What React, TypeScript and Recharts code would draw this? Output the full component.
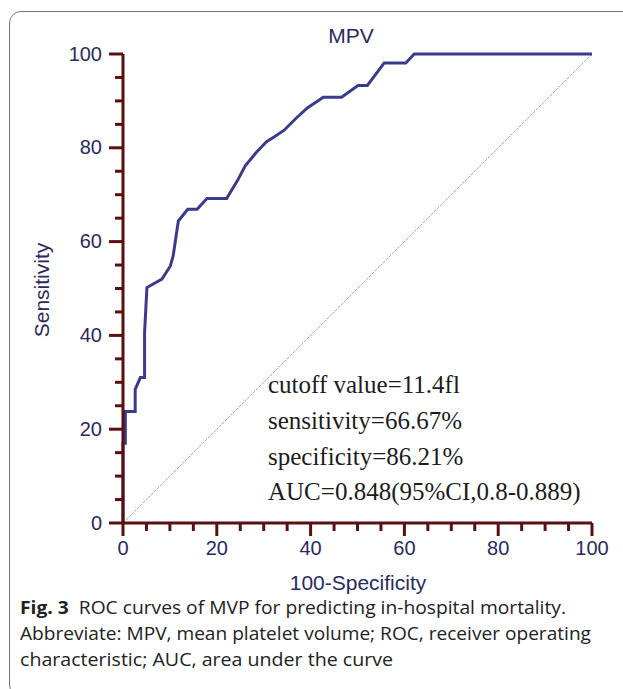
import React from "react";
import { LineChart, Line, XAxis, YAxis, ReferenceLine } from "recharts";

// ROC curve points (100-specificity, sensitivity)
const fpr = [0, 0, 0.5, 0.5, 2.6, 2.6, 3.7, 4.6, 4.6, 5.1, 8.3, 10.1, 10.7, 11.8, 13.8, 15.8, 17.9, 22.1, 24.4, 26.1, 28.5, 30.6, 32.2, 34.3, 36.8, 39.3, 42.7, 46.6, 50.1, 52.1, 55.7, 60.3, 62.1, 100];
const tpr = [0, 17, 17, 23.8, 23.8, 28.5, 31, 31, 40.6, 50.2, 52, 54.8, 57, 64.4, 66.9, 66.9, 69.2, 69.2, 73, 76.2, 79.1, 81.3, 82.3, 83.7, 86.2, 88.5, 90.8, 90.8, 93.3, 93.3, 98.1, 98.1, 100, 100];

const tickValues = [0, 5, 10, 15, 20, 25, 30, 35, 40, 45, 50, 55, 60, 65, 70, 75, 80, 85, 90, 95, 100];
const statLines = ["cutoff value=11.4fl", "sensitivity=66.67%", "specificity=86.21%", "AUC=0.848(95%CI,0.8-0.889)"];
const captionRest = [
  "Abbreviate: MPV, mean platelet volume; ROC, receiver operating",
  "characteristic; AUC, area under the curve",
];

const rocData = fpr.map((x, i) => ({ fpr: x, tpr: tpr[i] }));

const AXIS = "#5a1010";
const LABEL = "#2a2a5c";
const CURVE = "#3b3b8c";
const SANS = "'Liberation Sans', Arial, sans-serif";

const XTick = (props: any) => {
  const { x, y, payload } = props;
  const major = payload.value % 20 === 0;
  return (
    <g>
      <line x1={x} x2={x} y1={y} y2={y + (major ? 13 : 8)} stroke={AXIS} strokeWidth={3} />
      {major && (
        <text x={x} y={y + 32} textAnchor="middle" fontSize={20} fontFamily={SANS} fill={LABEL}>
          {payload.value}
        </text>
      )}
    </g>
  );
};

const YTick = (props: any) => {
  const { x, y, payload } = props;
  const major = payload.value % 20 === 0;
  return (
    <g>
      <line x1={x} x2={x - (major ? 14 : 8)} y1={y} y2={y} stroke={AXIS} strokeWidth={3} />
      {major && (
        <text x={x - 21} y={y + 6.5} textAnchor="end" fontSize={20} fontFamily={SANS} fill={LABEL}>
          {payload.value}
        </text>
      )}
    </g>
  );
};

const App: React.FC = () => {
  return (
    <div style={{ position: "absolute", left: 0, top: 0, width: 623, height: 689, overflow: "hidden", background: "#fff" }}>
      <div
        style={{
          position: "absolute",
          left: 9,
          top: 11,
          width: 700,
          height: 684,
          border: "1.5px solid #777",
          borderRadius: 12,
        }}
      />
      <div style={{ position: "absolute", left: 0, top: 0 }}>
        <LineChart width={623} height={610} data={rocData} margin={{ top: 54, right: 31, left: 0, bottom: 27 }}>
          <XAxis
            dataKey="fpr"
            type="number"
            domain={[0, 100]}
            ticks={tickValues}
            interval={0}
            tickSize={0}
            tickMargin={0}
            tickLine={false}
            tick={<XTick />}
            axisLine={{ stroke: AXIS, strokeWidth: 3 }}
            height={60}
          />
          <XAxis xAxisId="top" orientation="top" type="number" domain={[0, 100]} tick={false} tickLine={false} height={0} axisLine={{ stroke: AXIS, strokeWidth: 2.5 }} />
          <YAxis
            dataKey="tpr"
            type="number"
            domain={[0, 100]}
            ticks={tickValues}
            interval={0}
            tickSize={0}
            tickMargin={0}
            tickLine={false}
            tick={<YTick />}
            axisLine={{ stroke: AXIS, strokeWidth: 3 }}
            width={123}
          />
          <YAxis yAxisId="right" orientation="right" type="number" domain={[0, 100]} tick={false} tickLine={false} width={0} axisLine={{ stroke: AXIS, strokeWidth: 2.5 }} />
          <ReferenceLine
            segment={[{ x: 0, y: 0 }, { x: 100, y: 100 }]}
            stroke="#a8a8a8"
            strokeWidth={1}
            strokeDasharray="3 1"
          />
          <Line
            type="linear"
            dataKey="tpr"
            stroke={CURVE}
            strokeWidth={3}
            dot={false}
            isAnimationActive={false}
          />
        </LineChart>
      </div>
      <svg width={623} height={689} style={{ position: "absolute", left: 0, top: 0, pointerEvents: "none" }}>
        <text x={351} y={43} textAnchor="middle" fontSize={21} fontFamily={SANS} fill={LABEL}>
          MPV
        </text>
        <text
          transform="translate(49,290) rotate(-90)"
          textAnchor="middle"
          fontSize={21}
          fontFamily={SANS}
          fill={LABEL}
        >
          Sensitivity
        </text>
        <text x={358} y={590} textAnchor="middle" fontSize={21} fontFamily={SANS} fill={LABEL}>
          100-Specificity
        </text>
        {statLines.map((s, i) => (
          <text key={s} x={268} y={393 + i * 35.8} fontSize={25} fontFamily="'Liberation Serif', 'Times New Roman', serif" fill="#1c1c1c">
            {s}
          </text>
        ))}
        <text x={20} y={614} fontSize={18} fontFamily="'Open Sans', sans-serif" fill="#222" textLength={546} lengthAdjust="spacingAndGlyphs">
          <tspan fontWeight="bold">Fig. 3</tspan>
          <tspan>{"\u00a0\u00a0ROC curves of MVP for predicting in-hospital mortality."}</tspan>
        </text>
        {captionRest.map((s, i) => (
          <text
            key={s}
            x={20}
            y={640 + i * 26}
            fontSize={18}
            fontFamily="'Open Sans', sans-serif"
            fill="#222"
            textLength={i === 0 ? 571 : 373}
            lengthAdjust="spacingAndGlyphs"
          >
            {s}
          </text>
        ))}
      </svg>
    </div>
  );
};

export default App;
